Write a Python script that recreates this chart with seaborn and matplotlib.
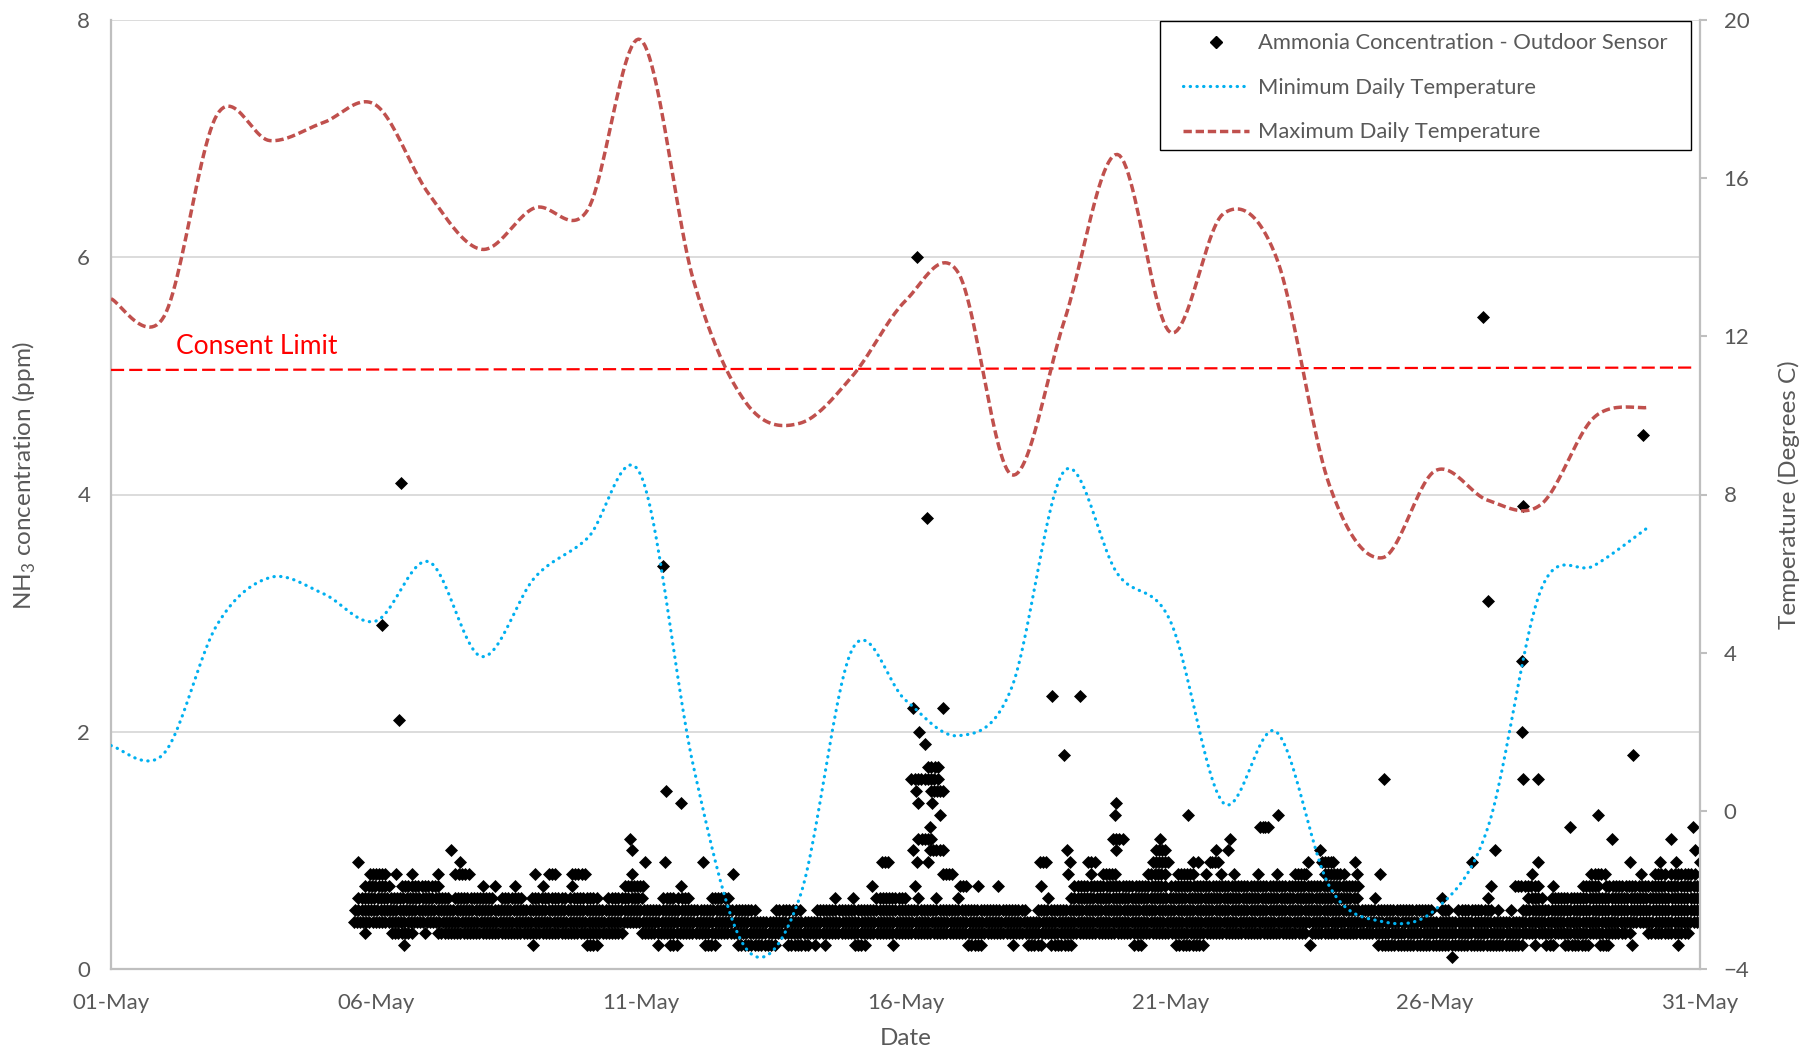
import numpy as np
import pandas as pd
import matplotlib.pyplot as plt
from matplotlib.lines import Line2D
from matplotlib.patches import Rectangle
import seaborn as sns

# Fechas: días desde el 01-May (0 = 01-May)
dias_temp = list(range(30))
temp_max = [12.95, 12.5, 17.6, 16.95, 17.4, 17.85, 15.6, 14.2, 15.25, 15.2,
            19.5, 13.4, 10.3, 9.8, 11.0, 12.9, 13.6, 8.5, 12.4, 16.6,
            12.1, 15.1, 14.0, 8.25, 6.4, 8.6, 7.85, 7.75, 9.95, 10.2]
temp_min = [1.65, 1.45, 4.7, 5.9, 5.5, 4.8, 6.3, 3.9, 5.9, 6.9,
            8.5, 1.1, -3.5, -2.2, 4.1, 2.8, 1.9, 3.1, 8.6, 6.0,
            4.8, 0.2, 2.0, -1.9, -2.8, -2.5, -0.4, 5.6, 6.2, 7.15]

# Limite de consentimiento (ppm) en los extremos de la linea
limite_dias = [0, 29.9]
limite_ppm = [5.05, 5.07]

# Lecturas de amoniaco: tramos (dia inicio, dia fin) por nivel en ppm
nivel_01 = [(25.31, 25.31)]
nivel_02 = [(5.54, 5.54), (7.97, 7.97), (8.98, 9.17), (10.33, 10.33), (10.55, 10.68),
            (11.21, 11.4), (11.84, 12.53), (12.78, 13.16), (13.29, 13.29), (13.48, 13.48),
            (14.04, 14.23), (14.77, 14.77), (16.18, 16.43), (17.03, 17.03), (17.31, 17.56),
            (17.75, 18.13), (19.32, 19.45), (20.11, 20.61), (22.64, 22.64), (23.93, 26.63),
            (26.88, 26.88), (27.1, 27.23), (27.45, 27.89), (28.11, 28.27), (28.71, 28.71),
            (29.59, 29.59)]
nivel_03 = [(4.8, 4.8), (5.3, 5.68), (5.93, 5.93), (6.18, 9.64), (10.02, 22.54),
            (22.67, 28.58), (28.67, 28.67), (29.02, 29.77)]
nivel_04 = [(4.58, 30.0)]
nivel_05 = [(4.61, 12.15), (12.55, 13.0), (13.32, 17.25), (17.5, 24.93), (25.12, 25.25),
            (25.44, 26.06), (26.19, 26.19), (26.44, 26.44), (26.66, 30.0)]
nivel_06 = [(4.67, 6.37), (6.5, 7.19), (7.38, 7.75), (7.94, 8.57), (8.67, 9.17),
            (9.39, 10.02), (10.43, 10.61), (10.71, 10.9), (11.34, 11.65), (13.66, 13.66),
            (14.01, 14.01), (14.45, 14.99), (15.24, 15.24), (15.58, 15.58), (15.99, 15.99),
            (17.69, 17.69), (18.13, 23.52), (23.86, 23.86), (25.12, 25.12), (26.0, 26.0),
            (26.76, 27.01), (27.2, 30.0)]
nivel_07 = [(4.8, 5.24), (5.49, 6.18), (7.03, 7.03), (7.25, 7.25), (7.63, 7.63),
            (8.16, 8.16), (8.7, 8.7), (9.7, 10.05), (10.77, 10.77), (14.36, 14.36),
            (15.17, 15.17), (16.02, 16.15), (16.37, 16.37), (16.75, 16.75), (17.56, 17.56),
            (18.19, 19.89), (20.02, 23.55), (26.06, 26.06), (26.5, 26.94), (27.23, 27.23),
            (27.79, 28.08), (28.23, 30.0)]
nivel_08 = [(4.89, 5.17), (5.39, 5.39), (5.68, 5.68), (6.17, 6.17), (6.5, 6.75),
            (8.0, 8.0), (8.26, 8.38), (8.7, 8.95), (9.83, 9.83), (11.75, 11.75),
            (15.71, 15.87), (18.07, 18.07), (18.51, 18.51), (18.73, 18.95), (19.58, 19.89),
            (20.14, 20.43), (20.68, 20.68), (20.96, 20.96), (21.21, 21.21), (21.66, 21.66),
            (22.01, 22.01), (22.35, 22.57), (22.92, 23.27), (23.52, 23.52), (23.96, 23.96),
            (26.82, 26.82), (27.95, 28.2), (28.89, 28.89), (29.15, 29.33), (29.46, 29.9)]
nivel_09 = [(4.67, 4.67), (6.59, 6.59), (10.08, 10.08), (10.46, 10.46), (11.18, 11.18),
            (14.55, 14.67), (15.21, 15.21), (15.43, 15.43), (17.53, 17.66), (18.1, 18.1),
            (18.44, 18.57), (19.67, 19.95), (20.43, 20.52), (20.74, 20.9), (22.6, 22.6),
            (22.86, 23.08), (23.49, 23.49), (25.69, 25.69), (26.94, 26.94), (28.67, 28.67),
            (29.24, 29.24), (29.55, 29.55), (30.0, 30.0)]
nivel_10 = [(6.42, 6.42), (9.84, 9.84), (15.14, 15.14), (15.46, 15.71), (18.04, 18.04),
            (18.98, 18.98), (19.73, 19.89), (20.87, 20.87), (21.09, 21.09), (22.83, 22.83),
            (26.13, 26.13), (29.9, 29.9)]
nivel_11 = [(9.8, 9.8), (15.24, 15.49), (18.92, 19.1), (19.8, 19.8), (21.12, 21.12),
            (28.33, 28.33), (29.46, 29.46)]
nivel_12 = [(15.46, 15.46), (21.69, 21.85), (27.54, 27.54), (29.87, 29.87)]
nivel_13 = [(15.65, 15.65), (18.95, 18.95), (20.34, 20.34), (22.03, 22.03), (28.08, 28.08)]
nivel_14 = [(10.77, 10.77), (15.24, 15.24), (15.5, 15.5), (18.98, 18.98)]
nivel_15 = [(10.48, 10.48), (15.19, 15.19), (15.49, 15.71)]
nivel_16 = [(15.11, 15.61), (24.04, 24.04), (26.66, 26.66), (26.94, 26.94)]
nivel_17 = [(15.43, 15.61)]

# Lecturas aisladas altas
aislado_dia = [5.11, 5.43, 5.48, 10.43, 15.14, 15.21, 15.25, 15.36, 15.41, 15.71,
               17.77, 17.99, 18.3, 25.9, 26.0, 26.63, 26.63, 26.65, 28.73, 28.93]
aislado_ppm = [2.9, 2.1, 4.1, 3.4, 2.2, 6.0, 2.0, 1.9, 3.8, 2.2,
               2.3, 1.8, 2.3, 5.5, 3.1, 2.6, 2.0, 3.9, 1.8, 4.5]

etiquetas_x = ["01-May", "06-May", "11-May", "16-May", "21-May", "26-May", "31-May"]

niveles = {0.1: nivel_01, 0.2: nivel_02, 0.3: nivel_03, 0.4: nivel_04, 0.5: nivel_05,
           0.6: nivel_06, 0.7: nivel_07, 0.8: nivel_08, 0.9: nivel_09, 1.0: nivel_10,
           1.1: nivel_11, 1.2: nivel_12, 1.3: nivel_13, 1.4: nivel_14, 1.5: nivel_15,
           1.6: nivel_16, 1.7: nivel_17}

# Lecturas del sensor (cada ~1.4 h) dentro de cada tramo
paso = 0.06
filas = []
for nivel, tramos in niveles.items():
    for ini, fin in tramos:
        n = max(1, int(round((fin - ini) / paso)) + 1)
        for t in np.linspace(ini, fin, n):
            filas.append((t, nivel))
for d, v in zip(aislado_dia, aislado_ppm):
    filas.append((d, v))
amoniaco = pd.DataFrame(filas, columns=["dia", "ppm"])


# Suavizado tipo Excel (Bezier / Catmull-Rom) para dibujar las curvas
def suavizar(xs, ys, pasos=24):
    xs = np.asarray(xs, float)
    ys = np.asarray(ys, float)
    px = np.concatenate([[xs[0]], xs, [xs[-1]]])
    py = np.concatenate([[ys[0]], ys, [ys[-1]]])
    t = np.linspace(0, 1, pasos, endpoint=False)[:, None]
    sx, sy = [], []
    for i in range(len(xs) - 1):
        p0 = np.array([px[i], py[i]])
        p1 = np.array([px[i + 1], py[i + 1]])
        p2 = np.array([px[i + 2], py[i + 2]])
        p3 = np.array([px[i + 3], py[i + 3]])
        c1 = p1 + (p2 - p0) / 6
        c2 = p2 - (p3 - p1) / 6
        b = ((1 - t) ** 3) * p1 + 3 * ((1 - t) ** 2) * t * c1 + 3 * (1 - t) * t ** 2 * c2 + t ** 3 * p2
        sx.extend(b[:, 0])
        sy.extend(b[:, 1])
    sx.append(xs[-1])
    sy.append(ys[-1])
    return np.array(sx), np.array(sy)


sns.set_theme(style="white")
plt.rcParams["font.family"] = ["Lato", "DejaVu Sans"]
plt.rcParams["mathtext.fontset"] = "custom"
plt.rcParams["mathtext.rm"] = "Lato"
plt.rcParams["font.size"] = 16

gris = "#595959"
gris_eje = "#BFBFBF"
azul = "#00B0F0"
rojo_osc = "#C0504D"

fig = plt.figure(figsize=(18.2, 10.54), dpi=100)
ax = fig.add_axes([111 / 1820, 85 / 1054, 1589 / 1820, 949 / 1054])

sns.scatterplot(data=amoniaco, x="dia", y="ppm", marker="D", color="black",
                s=44, linewidth=0, ax=ax, zorder=3)
ax.plot(limite_dias, limite_ppm, color="#FF0000", lw=1.6, dashes=(5.9, 2.3), zorder=4)
ax.text(1.23, 5.25, "Consent Limit", color="#FF0000", fontsize=19, va="center", ha="left")

ax.set_xlim(0, 30)
ax.set_ylim(0, 8)
ax.set_xticks(range(0, 31, 5))
ax.set_xticklabels(etiquetas_x)
ax.set_yticks([0, 2, 4, 6, 8])
ax.yaxis.grid(True, color="#D9D9D9", lw=1.3)
ax.xaxis.grid(False)
ax.tick_params(axis="both", length=0, labelsize=16, labelcolor=gris)
ax.tick_params(axis="x", pad=17)
ax.tick_params(axis="y", pad=15)
ax.set_xlabel("Date", color=gris, fontsize=17.5)
ax.set_ylabel(r"NH$_\mathregular{3}$ concentration (ppm)", color=gris, fontsize=17.5)
ax.xaxis.label.set_va("center")
ax.yaxis.label.set_va("center")
ax.xaxis.set_label_coords(0.5, -0.073)
ax.yaxis.set_label_coords(-0.0545, 0.52)
for lado in ["left", "bottom"]:
    ax.spines[lado].set_color(gris_eje)
    ax.spines[lado].set_linewidth(1.6)
ax.spines["top"].set_visible(False)
ax.spines["right"].set_visible(False)

ax2 = ax.twinx()
mx, my = suavizar(dias_temp, temp_min)
sns.lineplot(x=mx, y=my, ax=ax2, color=azul, lw=2.3, sort=False, estimator=None,
             linestyle=(0, (0.1, 2.0)), dash_capstyle="round")
rx, ry = suavizar(dias_temp, temp_max)
sns.lineplot(x=rx, y=ry, ax=ax2, color=rojo_osc, lw=2.5, sort=False, estimator=None,
             linestyle=(0, (2.4, 1.1)))
ax2.set_ylim(-4, 20)
ax2.set_yticks(range(-4, 21, 4))
ax2.tick_params(axis="y", length=5, width=1.5, color=gris_eje, labelsize=16,
                labelcolor=gris, pad=12, direction="out")
ax2.set_ylabel("Temperature (Degrees C)", color=gris, fontsize=17.5, rotation=90)
ax2.yaxis.label.set_va("center")
ax2.yaxis.set_label_coords(1.056, 0.50)
ax2.grid(False)
for lado in ["left", "top", "bottom"]:
    ax2.spines[lado].set_visible(False)
ax2.spines["right"].set_color(gris_eje)
ax2.spines["right"].set_linewidth(1.6)

# Leyenda con marco propio (como en Excel)
ax2.add_patch(Rectangle((0.660, 0.8633), 0.9943 - 0.660, 0.9991 - 0.8633,
                        transform=ax2.transAxes, facecolor="white", edgecolor="black",
                        lw=1.0, zorder=5))
manejadores = [
    Line2D([], [], color="black", marker="D", linestyle="none", markersize=6),
    Line2D([], [], color=azul, lw=2.3, linestyle=(0, (0.1, 2.0)), dash_capstyle="round"),
    Line2D([], [], color=rojo_osc, lw=2.5, linestyle=(0, (2.4, 1.1))),
]
textos = ["Ammonia Concentration - Outdoor Sensor", "Minimum Daily Temperature",
          "Maximum Daily Temperature"]
leg = ax2.legend(manejadores, textos, loc="upper left", bbox_to_anchor=(0.6745, 0.986),
                 fontsize=15.8, frameon=False, handlelength=3.0, handletextpad=0.45,
                 labelspacing=1.12, borderpad=0, borderaxespad=0)
leg.set_zorder(6)
for txt in leg.get_texts():
    txt.set_color(gris)

fig.savefig("out.png", dpi=100)
